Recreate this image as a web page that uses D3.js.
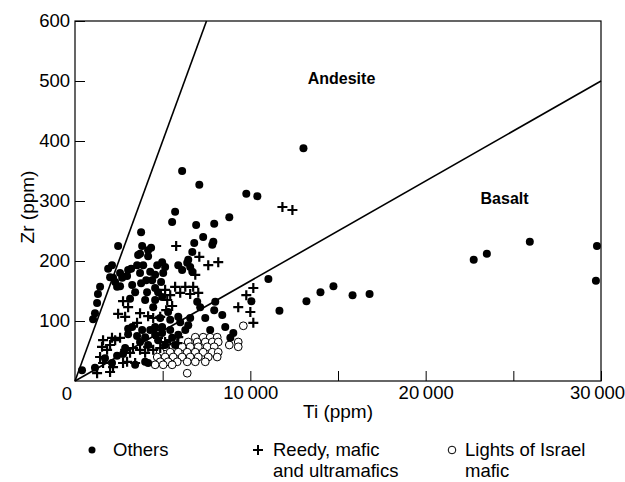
<!DOCTYPE html>
<html>
<head>
<meta charset="utf-8">
<script src="https://cdn.jsdelivr.net/npm/d3@7"></script>
<style>
  body { margin: 0; background: #fff; }
  text { font-family: "Liberation Sans", Arial, Helvetica, sans-serif; }
</style>
</head>
<body>
<div id="chart"></div>
<script>
// Ti (thousand ppm), Zr (ppm)
const others = [
  [0.40,18],[1.03,103],[1.14,113],[1.26,130],[1.31,145],[1.43,157],[1.89,187],[2.00,173],[2.11,193],[2.46,225],
  [2.57,180],[2.29,165],[2.40,157],[2.97,175],[3.03,185],[3.60,210],[3.83,225],[4.17,218],[4.34,222],[3.71,212],
  [4.17,208],[3.54,193],[3.89,193],[3.20,187],[3.71,180],[4.29,182],[2.17,172],[2.69,172],[2.57,158],[3.26,160],
  [3.77,163],[4.40,168],[3.43,148],[4.11,148],[4.57,155],[3.14,137],[4.46,123],[4.00,135],[4.69,193],[4.57,177],
  [4.06,168],
  [6.11,350],[7.09,327],[9.77,312],[10.40,308],[13.03,388],[5.71,282],[5.54,265],[6.91,260],[8.80,273],[7.94,262],
  [3.77,248],[7.31,240],[7.89,232],[7.83,227],[6.80,230],[6.69,215],[6.46,202],[6.40,197],[6.57,190],[5.89,193],
  [6.11,185],[6.69,182],[4.97,198],[5.14,190],[5.03,180],[4.91,165],[4.74,148],[4.97,140],[4.57,135],[6.97,132],
  [7.14,123],[8.00,132],[7.94,118],[8.40,110],[8.57,90],[9.03,80],[8.86,72],[6.57,105],[6.00,98],[6.46,93],
  [6.29,85],[4.97,90],[4.97,80],[5.43,85],[4.57,90],[5.89,107],
  [11.03,170],[10.06,133],[11.66,117],[13.20,133],[14.00,148],[14.74,158],[15.83,143],[16.80,145],
  [22.74,202],[23.49,212],[25.94,232],[29.77,225],[29.71,167],
  [3.26,90],[3.03,87],[3.03,78],[3.54,75],[3.83,85],[4.00,73],[4.29,85],[4.57,77],[3.71,65],[4.17,60],
  [4.74,68],[5.14,60],[5.54,72],[5.89,77],[5.71,60],[1.71,38],[2.40,42],[2.74,45],[2.11,30],[1.14,22],
  [4.00,32],[4.17,30],[3.43,27],[2.86,55],[4.86,105],[5.31,115],[5.43,102],[7.43,105],[7.71,85]
]

const reedy = [
  [5.77,225],[7.09,207],[7.60,193],[8.17,198],[6.86,177],[11.83,290],[12.40,285],
  [2.74,133],[3.03,123],[2.46,112],[2.86,107],[3.54,97],[3.71,113],[4.17,108],[4.46,105],[4.86,107],
  [5.14,152],[5.43,143],[5.71,157],[6.00,147],[6.29,157],[6.57,145],[6.74,157],[7.03,147],[5.26,135],[5.54,125],[5.20,118],
  [10.17,155],[9.77,143],[9.31,123],[10.00,115],[10.17,97],
  [1.43,40],[1.83,52],[2.00,60],[2.29,68],[2.57,72],[1.60,30],[2.17,23],[1.26,13],[2.00,15],
  [2.86,52],[3.14,47],[3.31,55],[3.71,52],[4.00,47],[4.17,57],[4.46,52],[4.86,55],[5.14,65],[5.43,68],
  [5.83,63],[5.89,73],[2.97,32],[3.43,30],[2.74,30],[4.57,85],[4.74,72],[1.60,68],[2.11,72],[1.54,57]
]

const israel = [
  [6.86,73],[7.31,73],[7.71,73],[8.11,73],
  [6.46,65],[6.97,65],[7.43,65],[7.83,65],[8.17,65],
  [5.14,57],[5.60,57],[6.11,57],[6.57,57],[7.03,57],[7.54,57],[7.94,57],
  [4.86,48],[5.43,48],[5.89,48],[6.40,48],[6.86,48],[7.31,48],[7.83,48],[8.17,48],
  [4.69,40],[5.14,40],[5.60,40],[6.11,40],[6.57,40],[7.03,40],[7.60,40],[8.11,40],
  [4.86,32],[5.31,32],[5.83,32],[6.40,32],[6.86,32],[7.43,32],
  [4.57,27],[5.03,27],[5.54,27],
  [6.40,13],[9.60,92],[8.80,60],[9.31,65],[9.31,57]
]

// dividing lines: origin to end point
const divLines = [[[0,0],[7.5,600]], [[0,0],[30,500]]]
const fieldLabels = [["Andesite",15.2,495], ["Basalt",24.5,295]]

const yTicks = [100,200,300,400,500,600]
const xTicks = [5,10,15,20,25,30]
const xLabels = {10:"10\u2009000", 20:"20\u2009000", 30:"30\u2009000"}

const W = 625, H = 482
const margin = {top: 21, right: 24, bottom: 101, left: 75},
    width = W - margin.left - margin.right,
    height = H - margin.top - margin.bottom

const svg = d3.select("#chart")
  .append("svg")
  .attr("width", W)
  .attr("height", H)
  .append("g")
    .attr("transform", `translate(${margin.left},${margin.top})`)

const x = d3.scaleLinear().domain([0, 30]).range([0, width])
const y = d3.scaleLinear().domain([0, 600]).range([height, 0])

// frame
svg.append("rect")
  .attr("width", width).attr("height", height)
  .attr("fill", "none").attr("stroke", "#000").attr("stroke-width", 1.2)

// Y axis, ticks inward
const yAxis = svg.append("g")
  .call(d3.axisLeft(y).tickValues(yTicks).tickSizeInner(-10).tickSizeOuter(0).tickPadding(5))
yAxis.select(".domain").remove()
yAxis.selectAll("text")
  .style("font-size", "18.5px")
  .style("font-family", "Liberation Sans, Arial, sans-serif")
  .attr("fill", "#000")

// X axis, ticks inward
const xAxis = svg.append("g")
  .attr("transform", `translate(0,${height})`)
  .call(d3.axisBottom(x).tickValues(xTicks).tickSizeInner(-10).tickSizeOuter(0).tickPadding(5)
    .tickFormat(d => xLabels[d] || ""))
xAxis.select(".domain").remove()
xAxis.selectAll("text")
  .style("font-size", "18.5px")
  .style("font-family", "Liberation Sans, Arial, sans-serif")
  .attr("fill", "#000")
  .attr("dx", d => d === 30 ? -4 : 0)

// shared zero
svg.append("text")
  .attr("x", -8).attr("y", height + 19)
  .attr("text-anchor", "middle")
  .style("font-size", "18.5px")
  .text("0")

// dividing lines
svg.selectAll(".divline")
  .data(divLines)
  .join("line")
  .attr("x1", d => x(d[0][0])).attr("y1", d => y(d[0][1]))
  .attr("x2", d => x(d[1][0])).attr("y2", d => y(d[1][1]))
  .attr("stroke", "#000").attr("stroke-width", 1.6)

svg.selectAll(".field")
  .data(fieldLabels)
  .join("text")
  .attr("x", d => x(d[1])).attr("y", d => y(d[2]))
  .attr("text-anchor", "middle")
  .style("font-size", "16px")
  .style("font-weight", "bold")
  .text(d => d[0])

// Lights of Israel: open circles
svg.append("g").selectAll("circle")
  .data(israel)
  .join("circle")
  .attr("cx", d => x(d[0])).attr("cy", d => y(d[1]))
  .attr("r", 3.9)
  .attr("fill", "#fff").attr("stroke", "#000").attr("stroke-width", 1)

// Others: filled circles
svg.append("g").selectAll("circle")
  .data(others)
  .join("circle")
  .attr("cx", d => x(d[0])).attr("cy", d => y(d[1]))
  .attr("r", 4)
  .attr("fill", "#000")

// Reedy: crosses
svg.append("g").selectAll("path")
  .data(reedy)
  .join("path")
  .attr("transform", d => `translate(${x(d[0])},${y(d[1])})`)
  .attr("d", "M-5,0H5M0,-5V5")
  .attr("stroke", "#000").attr("stroke-width", 2.2)
  .attr("fill", "none")

// axis titles
svg.append("text")
  .attr("x", width / 2).attr("y", height + 37)
  .attr("text-anchor", "middle")
  .style("font-size", "19px")
  .text("Ti (ppm)")

svg.append("text")
  .attr("transform", "rotate(-90)")
  .attr("x", -height / 2 - 6).attr("y", -41)
  .attr("text-anchor", "middle")
  .style("font-size", "19px")
  .text("Zr (ppm)")

// legend
const legend = d3.select("svg").append("g")
const legItems = [
  {sym: "dot", x: 92, dx: 21, lines: ["Others"]},
  {sym: "cross", x: 258, dx: 15, lines: ["Reedy, mafic", "and ultramafics"]},
  {sym: "ring", x: 452, dx: 13, lines: ["Lights of Israel", "mafic"]}
]
legItems.forEach(it => {
  const g = legend.append("g").attr("transform", `translate(${it.x},450)`)
  if (it.sym === "dot") g.append("circle").attr("r", 3.5).attr("fill", "#000")
  if (it.sym === "cross") g.append("path").attr("d", "M-5,0H5M0,-5V5").attr("stroke", "#000").attr("stroke-width", 2)
  if (it.sym === "ring") g.append("circle").attr("r", 3.8).attr("fill", "#fff").attr("stroke", "#000")
  g.append("text")
    .attr("y", 6)
    .style("font-size", "18.5px")
    .selectAll("tspan")
    .data(it.lines)
    .join("tspan")
    .attr("x", it.dx).attr("dy", (d, i) => i === 0 ? 0 : 21)
    .text(d => d)
})
</script>
</body>
</html>
